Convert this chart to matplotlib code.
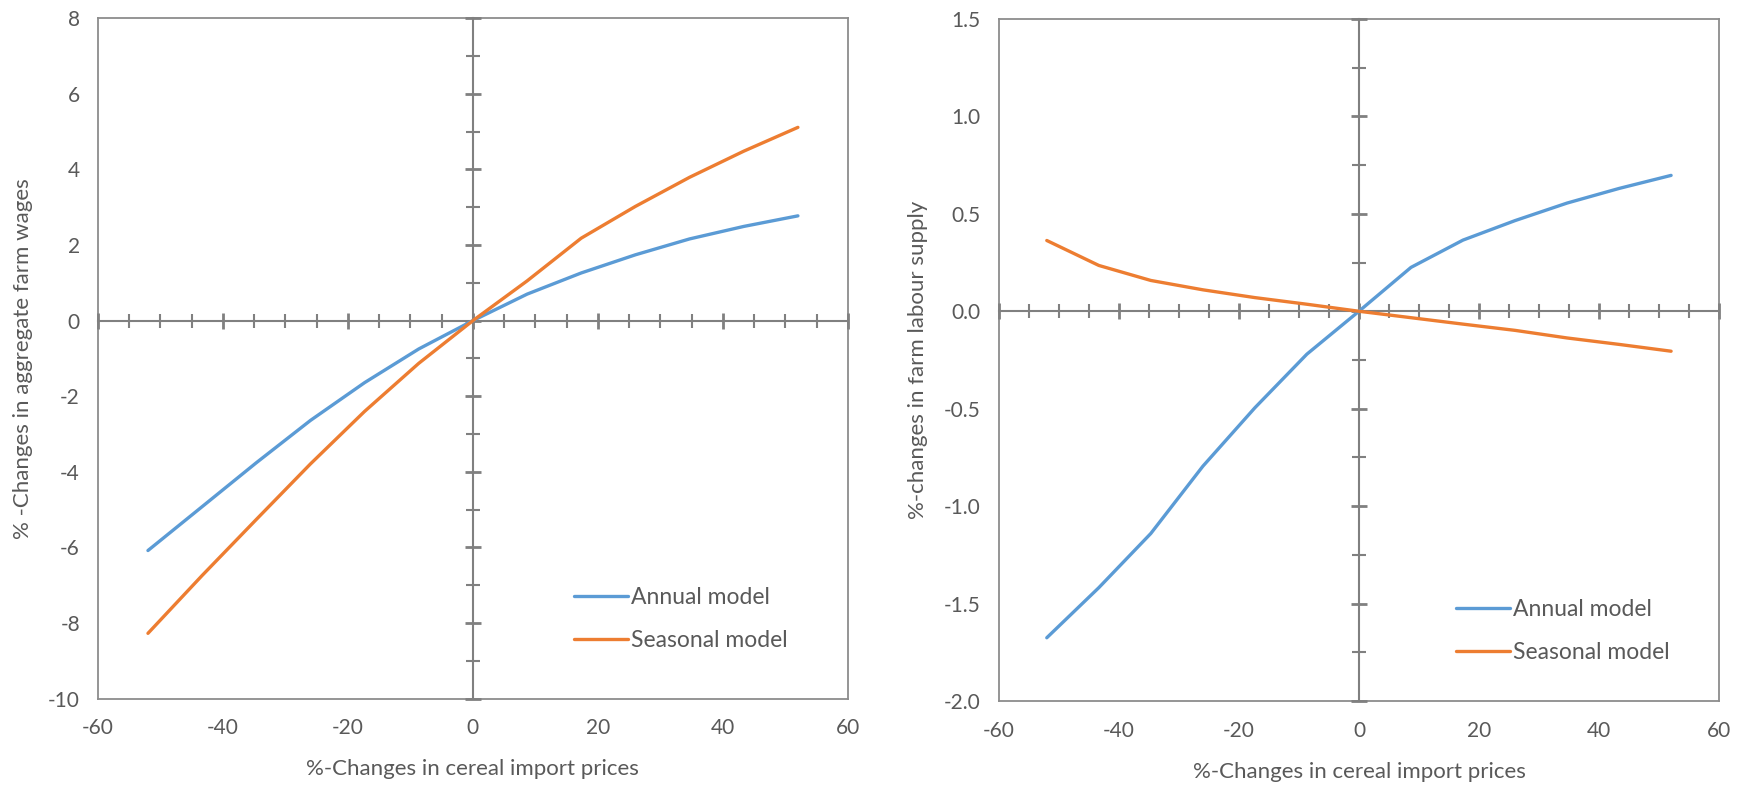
import numpy as np
import matplotlib
matplotlib.use("Agg")
import matplotlib.pyplot as plt
from matplotlib.ticker import MultipleLocator, FormatStrFormatter

# price shocks (%), same grid for both panels
price_change = [-52, -43.33, -34.67, -26, -17.33, -8.67, 0, 8.67, 17.33, 26, 34.67, 43.33, 52]

# left panel: % changes in aggregate farm wages
wage_annual = [-6.08, -4.92, -3.76, -2.64, -1.64, -0.75, 0, 0.70, 1.26, 1.74, 2.16, 2.49, 2.77]
wage_seasonal = [-8.27, -6.74, -5.26, -3.79, -2.40, -1.13, 0, 1.05, 2.18, 3.02, 3.79, 4.48, 5.11]

# right panel: % changes in farm labour supply
labour_annual = [-1.675, -1.418, -1.14, -0.795, -0.495, -0.22, 0, 0.225, 0.365, 0.465, 0.555, 0.63, 0.697]
labour_seasonal = [0.363, 0.235, 0.158, 0.11, 0.07, 0.036, 0, -0.033, -0.066, -0.098, -0.137, -0.17, -0.205]

series_names = ["Annual model", "Seasonal model"]
xlabel = "%-Changes in cereal import prices"

plt.rcParams['font.family'] = ['Lato', 'DejaVu Sans']
plt.rcParams['axes.unicode_minus'] = False
BLUE = '#5B9BD5'
ORANGE = '#ED7D31'
TXT = '#595959'
FRAME = '#8c8c8c'
AXIS = '#808080'
FS = 15

fig = plt.figure(figsize=(17.4, 7.86), dpi=100)


def panel(rect, ann, sea, ylim, ymaj, ymin, yfmt, ylabel, leg_anchor, ylab_x):
    ax = fig.add_axes(rect)
    ax.set_xlim(-60, 60)
    ax.set_ylim(*ylim)
    ax.xaxis.set_major_locator(MultipleLocator(20))
    ax.xaxis.set_minor_locator(MultipleLocator(5))
    ax.yaxis.set_major_locator(MultipleLocator(ymaj))
    ax.yaxis.set_minor_locator(MultipleLocator(ymin))
    ax.yaxis.set_major_formatter(FormatStrFormatter(yfmt))
    ax.tick_params(which='both', length=0, labelsize=FS, colors=TXT)
    ax.tick_params(axis='x', pad=14)
    ax.tick_params(axis='y', pad=13)
    for s in ax.spines.values():
        s.set_color(FRAME)
        s.set_linewidth(1.3)
    ax.set_xlabel(xlabel, fontsize=16, color=TXT)
    ax.set_ylabel(ylabel, fontsize=16, color=TXT)
    ax.yaxis.set_label_coords(ylab_x, 0.5)
    ax.xaxis.set_label_coords(0.5, -0.089)

    # overlay axes: crossing zero axes with tick marks + data
    ov = fig.add_axes(rect, sharex=ax, sharey=ax)
    ov.set_facecolor('none')
    ov.spines['top'].set_visible(False)
    ov.spines['right'].set_visible(False)
    ov.spines['left'].set_position(('data', 0))
    ov.spines['bottom'].set_position(('data', 0))
    for k in ('left', 'bottom'):
        ov.spines[k].set_color(AXIS)
        ov.spines[k].set_linewidth(1.5)
    ov.tick_params(which='major', direction='inout', length=12, width=2.0, color=AXIS,
                   labelbottom=False, labelleft=False)
    ov.tick_params(which='minor', direction='inout', length=10, width=1.5, color=AXIS)

    ov.plot(price_change, ann, color=BLUE, lw=2.4, solid_capstyle='round', zorder=4,
            label=series_names[0])
    ov.plot(price_change, sea, color=ORANGE, lw=2.4, solid_capstyle='round', zorder=4,
            label=series_names[1])
    leg = ov.legend(loc='upper left', bbox_to_anchor=leg_anchor, frameon=False,
                    fontsize=16.5, handlelength=2.35, handletextpad=0.13,
                    labelspacing=0.95, borderpad=0, borderaxespad=0)
    for t in leg.get_texts():
        t.set_color(TXT)
    return ax, ov


panel([0.0563, 0.111, 0.431, 0.866], wage_annual, wage_seasonal, (-10, 8), 2, 1, '%d',
      "% -Changes in aggregate farm wages", (0.635, 0.164), -0.086)
panel([0.574, 0.108, 0.414, 0.868], labour_annual, labour_seasonal, (-2.0, 1.5), 0.5, 0.25, '%.1f',
      "%-changes in farm labour supply", (0.635, 0.150), -0.098)

fig.savefig('out.png', dpi=100)
